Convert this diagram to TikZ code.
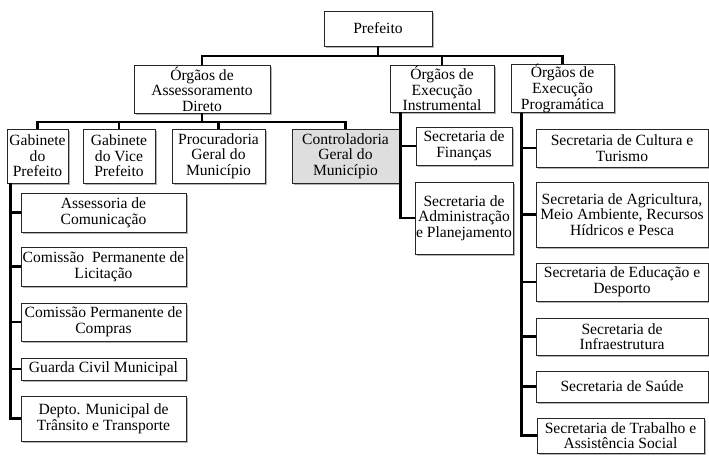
\documentclass[tikz,border=0pt]{standalone}
\usepackage{fontspec}
\setmainfont{Liberation Serif}
\usepackage{tikz}
\usetikzlibrary{positioning, shadows, calc}

\begin{document}
\begin{tikzpicture}[
        x=1pt, y=-1pt,
        box/.style={rectangle, draw=black!85, fill=white, line width=0.7pt, inner sep=0pt, align=center,
            font=\fontsize{15.6}{15.6}\selectfont,
            drop shadow={shadow xshift=1.6pt, shadow yshift=-1.8pt, fill=black!50, opacity=0.6}},
        link/.style={line width=2.8pt, black}
    ]
    \useasboundingbox (0,0) rectangle (709,457);

    % topo
    \node (pref) [box, minimum width=108, minimum height=35] at (378,28.5) {Prefeito};
    \node (assess) [box, minimum width=136, minimum height=48] at (202,89) {Órgãos de\\ Assessoramento\\ Direto};
    \node (inst) [box, minimum width=104, minimum height=47] at (442,88.5) {Órgãos de\\ Execução\\ Instrumental};
    \node (prog) [box, minimum width=103, minimum height=47] at (562.5,88.5) {Órgãos de\\ Execução\\ Programática};

    % assessoramento direto
    \node (gabp) [box, minimum width=61, minimum height=54] at (37.5,156) {Gabinete\\ do\\ Prefeito};
    \node (gabv) [box, minimum width=72, minimum height=54] at (119,156) {Gabinete\\ do Vice\\ Prefeito};
    \node (proc) [box, minimum width=93, minimum height=54] at (218.5,156) {Procuradoria\\ Geral do\\ Município};
    \node (contr) [box, fill=black!13, minimum width=107, minimum height=54] at (345.5,156) {Controladoria\\ Geral do\\ Município};

    % gabinete do prefeito
    \node (assc) [box, minimum width=165, minimum height=39] at (103.5,212.5) {Assessoria de\\ Comunicação};
    \node (lic) [box, minimum width=165, minimum height=39] at (103.5,266.5) {Comissão\ \ Permanente de\\ Licitação};
    \node (comp) [box, minimum width=165, minimum height=38] at (103.5,322) {Comissão Permanente de\\ Compras};
    \node (guarda) [box, minimum width=165, minimum height=22] at (103.5,369) {Guarda Civil Municipal};
    \node (depto) [box, minimum width=165, minimum height=45] at (103.5,418.5) {Depto. Municipal de\\ Trânsito e Transporte};

    % execucao instrumental
    \node (fin) [box, minimum width=96, minimum height=38] at (464,146) {Secretaria de\\ Finanças};
    \node (adm) [box, minimum width=98, minimum height=72] at (464,218) {Secretaria de\\ Administração\\ e Planejamento};

    % execucao programatica
    \node (cult) [box, minimum width=172, minimum height=38] at (622,148) {Secretaria de Cultura e\\ Turismo};
    \node (agri) [box, minimum width=172, minimum height=65] at (622,214.5) {Secretaria de Agricultura,\\ Meio Ambiente, Recursos\\ Hídricos e Pesca};
    \node (edu) [box, minimum width=172, minimum height=38] at (622,282) {Secretaria de Educação e\\ Desporto};
    \node (infra) [box, minimum width=172, minimum height=37] at (622,336.5) {Secretaria de\\ Infraestrutura};
    \node (saude) [box, minimum width=172, minimum height=31] at (622,386.5) {Secretaria de Saúde};
    \node (trab) [box, minimum width=167, minimum height=35] at (620.5,435.5) {Secretaria de Trabalho e\\ Assistência Social};

    \coordinate (bus1) at (378,56);
    \coordinate (bus2) at (202,122);

    \draw [link] (pref) -- (bus1);
    \draw [link] (assess.north) |- (bus1) -| (prog.north);
    \draw [link] (inst.north) -- (inst.north |- bus1);

    \draw [link] (assess) -- (bus2);
    \draw [link] (gabp.north) |- (bus2) -| (contr.north);
    \draw [link] (gabv.north) -- (gabv.north |- bus2);
    \draw [link] (proc.north) -- (proc.north |- bus2);

    \draw [link] ([xshift=4pt]gabp.south west) |- (assc.west);
    \draw [link] ([xshift=4pt]gabp.south west) |- (lic.west);
    \draw [link] ([xshift=4pt]gabp.south west) |- (comp.west);
    \draw [link] ([xshift=4pt]gabp.south west) |- (guarda.west);
    \draw [link] ([xshift=4pt]gabp.south west) |- (depto.west);

    \draw [link] ([xshift=11pt]inst.south west) |- (fin.west);
    \draw [link] ([xshift=11pt]inst.south west) |- (adm.west);

    \draw [link] ([xshift=11pt]prog.south west) |- (cult.west);
    \draw [link] ([xshift=11pt]prog.south west) |- (agri.west);
    \draw [link] ([xshift=11pt]prog.south west) |- (edu.west);
    \draw [link] ([xshift=11pt]prog.south west) |- (infra.west);
    \draw [link] ([xshift=11pt]prog.south west) |- (saude.west);
    \draw [link] ([xshift=11pt]prog.south west) |- (trab.west);

\end{tikzpicture}
\end{document}
